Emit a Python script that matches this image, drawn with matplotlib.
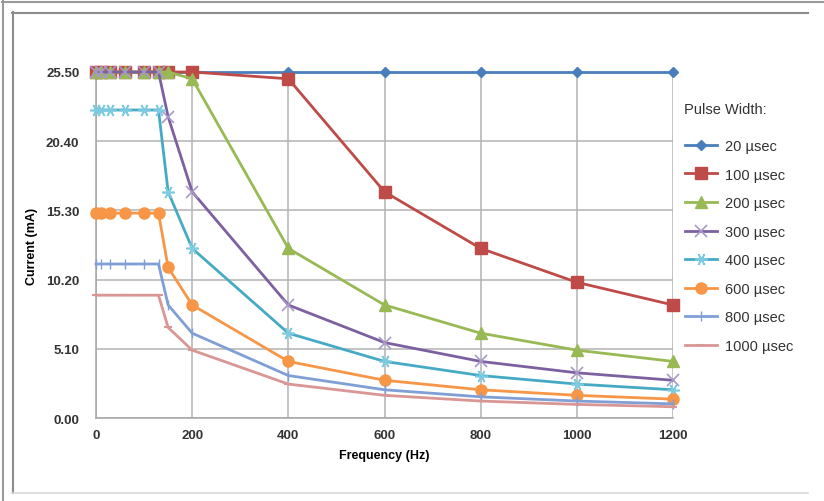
from matplotlib import pyplot as plt
from matplotlib.lines import Line2D

freq = [0, 10, 30, 60, 100, 130, 150, 200, 400, 600, 800, 1000, 1200]

current_20us = [25.5, 25.5, 25.5, 25.5, 25.5, 25.5, 25.5, 25.5, 25.5, 25.5, 25.5, 25.5, 25.5]
current_100us = [25.5, 25.5, 25.5, 25.5, 25.5, 25.5, 25.5, 25.5, 25.0, 16.67, 12.5, 10.0, 8.33]
current_200us = [25.5, 25.5, 25.5, 25.5, 25.5, 25.5, 25.5, 25.0, 12.5, 8.33, 6.25, 5.0, 4.17]
current_300us = [25.5, 25.5, 25.5, 25.5, 25.5, 25.5, 22.2, 16.67, 8.33, 5.56, 4.17, 3.33, 2.78]
current_400us = [22.7, 22.7, 22.7, 22.7, 22.7, 22.7, 16.67, 12.5, 6.25, 4.17, 3.13, 2.5, 2.08]
current_600us = [15.1, 15.1, 15.1, 15.1, 15.1, 15.1, 11.1, 8.33, 4.17, 2.78, 2.08, 1.67, 1.39]
current_800us = [11.35, 11.35, 11.35, 11.35, 11.35, 11.35, 8.33, 6.25, 3.13, 2.08, 1.56, 1.25, 1.04]
current_1000us = [9.05, 9.05, 9.05, 9.05, 9.05, 9.05, 6.67, 5.0, 2.5, 1.67, 1.25, 1.0, 0.83]

labels = ['20 µsec', '100 µsec', '200 µsec', '300 µsec', '400 µsec',
          '600 µsec', '800 µsec', '1000 µsec']
y_ticks = [0.0, 5.1, 10.2, 15.3, 20.4, 25.5]
x_ticks = [0, 200, 400, 600, 800, 1000, 1200]

plt.rcParams['font.family'] = ['Liberation Sans', 'DejaVu Sans']

fig = plt.figure(figsize=(8.24, 5.02), dpi=100)

# outer and inner frame lines (pixel coords converted to figure fraction)
W, H = 824.0, 502.0
def fx(px):
    return px / W
def fy(py):
    return 1 - py / H

fig.add_artist(Line2D([fx(2), fx(824)], [fy(2.5), fy(2.5)], color='#9a9a9a', lw=1.5))
fig.add_artist(Line2D([fx(2.5), fx(2.5)], [fy(2), fy(502)], color='#9a9a9a', lw=1.5))
fig.add_artist(Line2D([fx(12), fx(808)], [fy(13.5), fy(13.5)], color='#8c8c8c', lw=1.5))
fig.add_artist(Line2D([fx(12.5), fx(12.5)], [fy(13), fy(494)], color='#8c8c8c', lw=1.5))
fig.add_artist(Line2D([fx(12), fx(808)], [fy(494), fy(494)], color='#d9d9d9', lw=1.2))

ax = fig.add_axes([fx(96), fy(419), fx(673) - fx(96), fy(73) - fy(419)])

ax.plot(freq, current_20us, color='#4a7ebb', lw=2, marker='D', ms=5.5, label=labels[0], zorder=3, clip_on=False)
ax.plot(freq, current_100us, color='#be4b48', lw=2, marker='s', ms=8, label=labels[1], zorder=4, clip_on=False)
ax.plot(freq, current_200us, color='#98b954', lw=2, marker='^', ms=8, label=labels[2], zorder=5, clip_on=False)
ax.plot(freq, current_300us, color='#7d60a0', lw=2, marker='x', ms=8, mew=1.2,
        mec='#a898c8', label=labels[3], zorder=6, clip_on=False)
ax.plot(freq, current_400us, color='#46aac5', lw=2, marker=(6, 2, 90), ms=9, mew=1.2,
        mec='#7ccbe0', label=labels[4], zorder=7, clip_on=False)
ax.plot(freq, current_600us, color='#f79646', lw=2, marker='o', ms=8, label=labels[5], zorder=8, clip_on=False)
ax.plot(freq, current_800us, color='#7f9fd5', lw=2, marker='|', ms=7, mew=1.0,
        label=labels[6], zorder=9, clip_on=False)
ax.plot(freq, current_1000us, color='#d99694', lw=2, marker='_', ms=6, mew=1.5,
        label=labels[7], zorder=10, clip_on=False)

ax.set_xlim(0, 1200)
ax.set_ylim(0, 25.5)
ax.set_xticks(x_ticks)
ax.set_yticks(y_ticks)
ax.set_yticklabels(['%.2f' % v for v in y_ticks])
ax.grid(True, color='#b3b3b3', lw=1.1)
ax.set_axisbelow(True)
ax.tick_params(length=0, labelsize=9.5, colors='#333333')
ax.tick_params(axis='y', pad=12)
ax.tick_params(axis='x', pad=8)
for lab in ax.get_xticklabels() + ax.get_yticklabels():
    lab.set_fontweight('bold')
for side in ['top', 'right']:
    ax.spines[side].set_visible(False)
for side in ['left', 'bottom']:
    ax.spines[side].set_color('#a6a6a6')
    ax.spines[side].set_linewidth(1.1)

ax.set_xlabel('Frequency (Hz)', fontsize=9, fontweight='bold', labelpad=6)
ax.set_ylabel('Current (mA)', fontsize=9, fontweight='bold', labelpad=6)

# legend title as a separate text, entries below it
fig.text(fx(684), fy(110), 'Pulse Width:', fontsize=10.5, color='#333333', va='center', ha='left')
leg = fig.legend(loc='upper left', bbox_to_anchor=(fx(685), fy(140)),
                 frameon=False, fontsize=10.5,
                 handlelength=2.2, handletextpad=0.55, labelspacing=1.0, borderaxespad=0,
                 borderpad=0)
for t in leg.get_texts():
    t.set_color('#333333')

fig.savefig('out.png', dpi=100)
